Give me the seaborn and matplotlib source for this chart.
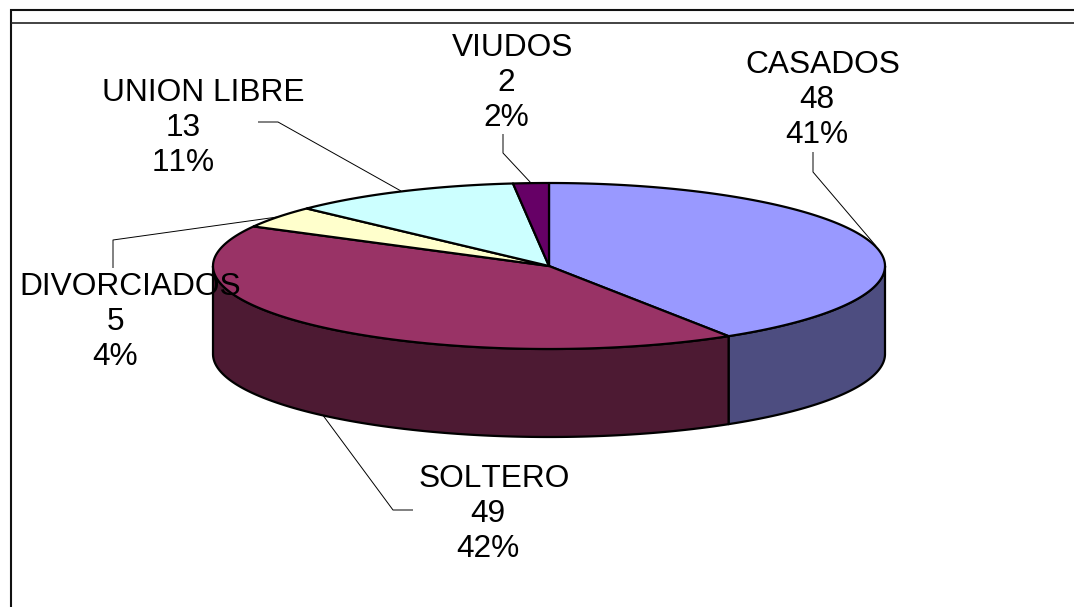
import numpy as np
import matplotlib
matplotlib.use("Agg")
import matplotlib.pyplot as plt
import seaborn as sns
from matplotlib.patches import Polygon

categories = ["CASADOS", "SOLTERO", "DIVORCIADOS", "UNION LIBRE", "VIUDOS"]
values = [48, 49, 5, 13, 2]
percent_labels = ["41%", "42%", "4%", "11%", "2%"]
top_colors = ["#9999FF", "#993366", "#FFFFCC", "#CCFFFF", "#660066"]
side_colors = ["#4D4D80", "#4D1A33", "#80806A", "#6A8080", "#330033"]

# x of the name line, x of the two number lines, baseline of the name line
label_pos = {"CASADOS": (822.5, 816.5, 73), "SOLTERO": (494.5, 487.5, 487),
             "DIVORCIADOS": (130, 115.3, 295), "UNION LIBRE": (203, 183.3, 101),
             "VIUDOS": (513, 506.5, 55.5)}
leaders = {"CASADOS": [(813, 152), (813, 172), (876, 246)],
           "SOLTERO": [(413, 510), (393, 510), (322, 414)],
           "DIVORCIADOS": [(113, 268), (113, 240), (288, 215.5)],
           "UNION LIBRE": [(258, 122), (278, 122), (401, 191)],
           "VIUDOS": [(503, 134), (503, 153), (531, 183)]}

sns.set_theme(style="white")
plt.rcParams["font.family"] = ["Liberation Sans", "DejaVu Sans"]
plt.rcParams["text.kerning_factor"] = 6

fig = plt.figure(figsize=(10.74, 6.07), dpi=100, facecolor="white")
ax = fig.add_axes([0, 0, 1, 1])
ax.set_xlim(0, 1074)
ax.set_ylim(607, 0)
ax.axis("off")

cx, cy, rx, ry, depth = 549, 266, 336, 83, 88
ink = "#000000"
lw = 1.6
line_step = 35.2


def rim(a0, a1):
    t = np.linspace(a0, a1, max(int(abs(a1 - a0)) * 2, 2))
    return np.column_stack([cx + rx * np.sin(t * np.pi / 180), cy - ry * np.cos(t * np.pi / 180)])


edges = np.concatenate([[0], np.cumsum(values) / np.sum(values) * 360])

# leader lines sit behind the pie
for name in categories:
    xy = np.array(leaders[name])
    ax.plot(xy[:, 0], xy[:, 1], color=ink, lw=0.7, solid_capstyle="butt", zorder=1)

# side walls: only the front half (90-270 degrees clockwise from the top) is visible
for i in range(len(values)):
    a0, a1 = max(edges[i], 90), min(edges[i + 1], 270)
    if a1 <= a0:
        continue
    r = rim(a0, a1)
    wall = np.vstack([r, (r + [0, depth])[::-1]])
    ax.add_patch(Polygon(wall, closed=True, fc=side_colors[i], ec=ink, lw=lw,
                         joinstyle="round", zorder=2))

# top face
for i in range(len(values)):
    pts = np.vstack([[cx, cy], rim(edges[i], edges[i + 1])])
    ax.add_patch(Polygon(pts, closed=True, fc=top_colors[i], ec=ink, lw=lw,
                         joinstyle="round", zorder=2))

# labels
for name, v, p in zip(categories, values, percent_labels):
    xn, xv, yb = label_pos[name]
    style = dict(ha="center", va="baseline", fontsize=22.8, color=ink, zorder=4)
    ax.text(xn, yb, name, **style)
    ax.text(xv, yb + line_step, str(v), **style)
    ax.text(xv, yb + 2 * line_step, p, **style)

# frame
ax.plot([1074, 11, 11], [9.5, 9.5, 607], color="#111111", lw=1.5, solid_capstyle="butt",
        solid_joinstyle="miter")
ax.plot([11, 1074], [23, 23], color="#222222", lw=1.2, solid_capstyle="butt")

fig.savefig("out.png", dpi=100, facecolor="white")
